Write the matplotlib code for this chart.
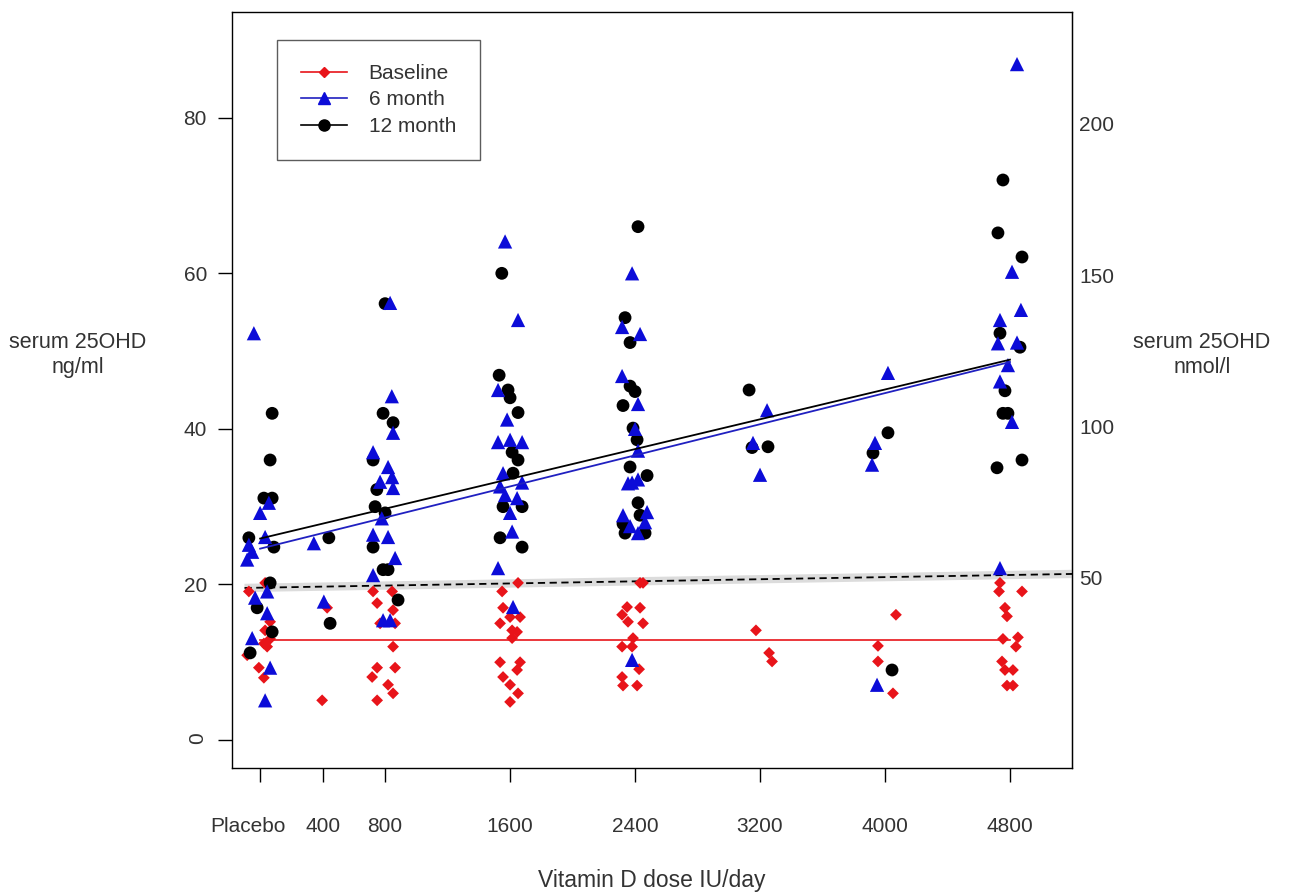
import matplotlib.pyplot as plt
from matplotlib.lines import Line2D
from matplotlib.transforms import blended_transform_factory
import numpy as np

plt.rcParams['font.family'] = ['Liberation Sans', 'DejaVu Sans']

dose_ticks = [0, 400, 800, 1600, 2400, 3200, 4000, 4800]
dose_labels = ['Placebo', '400', '800', '1600', '2400', '3200', '4000', '4800']

# baseline (jittered dose, ng/ml)
base_dose = [-72, 32, 64, 32, 24, 45, -8, 24, -83, 64,
             397, 429,
             723, 845, 749, 851, 768, 864, 851, 749, 864, 717, 819, 851, 749,
             1651, 1549, 1555, 1600, 1664, 1536, 1613, 1645, 1613, 1536, 1664, 1645, 1555, 1600, 1651, 1600,
             2432, 2451, 2349, 2432, 2317, 2355, 2451, 2387, 2317, 2381, 2426, 2317, 2323, 2413,
             3174, 3258, 3277,
             4070, 3955, 3955, 4051,
             4736, 4730, 4877, 4768, 4781, 4755, 4851, 4838, 4749, 4768, 4819, 4781, 4819]
base_val = [19.1, 20.2, 15.2, 14.1, 12.4, 12.0, 9.3, 8.0, 10.9, 13.0,
            5.1, 17.0,
            19.1, 19.1, 17.6, 16.7, 15.0, 15.0, 12.0, 9.3, 9.3, 8.1, 7.1, 6.0, 5.1,
            20.2, 19.1, 17.0, 15.8, 15.8, 15.0, 14.1, 13.9, 13.1, 10.0, 10.0, 9.0, 8.1, 7.1, 6.0, 4.9,
            20.2, 20.2, 17.1, 17.0, 16.1, 15.2, 15.0, 13.1, 12.0, 12.0, 9.1, 8.1, 7.0, 7.0,
            14.1, 11.2, 10.1,
            16.1, 12.1, 10.1, 6.0,
            20.2, 19.1, 19.1, 17.0, 15.9, 13.0, 13.2, 12.0, 10.1, 9.0, 9.0, 7.0, 7.0]

# 6 month
m6_dose = [-40, 0, 56, 32, -72, -51, -83, -32, 45, 45, -51, 64, 32,
           344, 408,
           832, 843, 851, 723, 819, 845, 851, 768, 779, 723, 819, 864, 723, 787, 832,
           1568, 1651, 1523, 1581, 1523, 1677, 1600, 1555, 1677, 1536, 1568, 1645, 1600, 1613, 1523, 1619,
           2381, 2317, 2432, 2317, 2419, 2400, 2419, 2381, 2323, 2477, 2368, 2419, 2419, 2355, 2464, 2381,
           3245, 3155, 3200,
           4019, 3936, 3917, 3949,
           4845, 4813, 4870, 4736, 4723, 4845, 4787, 4736, 4813, 4736]
m6_val = [52.3, 29.2, 30.5, 26.1, 25.1, 24.2, 23.2, 18.3, 19.1, 16.3, 13.1, 9.3, 5.1,
          25.3, 17.8,
          56.2, 44.2, 39.5, 37.0, 35.1, 33.8, 32.4, 33.2, 28.5, 26.4, 26.1, 23.4, 21.2, 15.4, 15.4,
          64.1, 54.0, 45.0, 41.2, 38.3, 38.3, 38.6, 34.3, 33.1, 32.6, 31.5, 31.1, 29.2, 26.8, 22.1, 17.1,
          60.0, 53.1, 52.2, 46.8, 43.2, 40.0, 37.2, 33.1, 28.9, 29.3, 27.5, 26.6, 33.5, 33.0, 28.0, 10.3,
          42.4, 38.2, 34.1,
          47.2, 38.2, 35.4, 7.1,
          86.9, 60.2, 55.3, 54.0, 51.0, 51.1, 48.2, 46.1, 40.9, 22.1]

# 12 month
m12_dose = [77, 64, 24, 77, -72, 88, 64, -19, 77, -64,
            440, 448,
            800, 787, 851, 723, 747, 736, 800, 723, 787, 819, 883,
            1547, 1530, 1587, 1600, 1651, 1613, 1651, 1619, 1555, 1677, 1536, 1677,
            2419, 2336, 2368, 2368, 2400, 2323, 2387, 2413, 2368, 2477, 2419, 2432, 2323, 2464, 2336,
            3130, 3149, 3251,
            4019, 3923, 4045,
            4755, 4723, 4877, 4736, 4768, 4787, 4755, 4877, 4717, 4864]
m12_val = [42.0, 36.0, 31.1, 31.1, 26.0, 24.8, 20.2, 17.0, 13.9, 11.2,
           26.0, 15.0,
           56.1, 42.0, 40.8, 36.0, 32.2, 30.0, 29.2, 24.8, 21.9, 21.9, 18.0,
           60.0, 46.9, 45.0, 44.0, 42.1, 37.0, 36.0, 34.3, 30.0, 30.0, 26.0, 24.8,
           66.0, 54.3, 51.1, 45.5, 44.8, 43.0, 40.1, 38.6, 35.1, 34.0, 30.5, 28.9, 27.8, 26.6, 26.6,
           45.0, 37.6, 37.7,
           39.5, 36.9, 9.0,
           72.0, 65.2, 62.1, 52.3, 44.9, 42.0, 42.0, 36.0, 35.0, 50.5]

# fitted lines, values
fit_dose = [0, 4800]
base_fit = [12.9, 12.9]
m6_fit = [24.6, 48.6]
m12_fit = [25.9, 48.9]
ref_dose = [-100, 5200]
ref_fit = [19.55, 21.35]

RED = '#e8141a'
BLUE = '#0c0cd8'

fig = plt.figure(figsize=(13.04, 8.96), dpi=100)
ax = fig.add_axes([232 / 1304, 1 - 768 / 896, 840 / 1304, 756 / 896])

ax.plot(ref_dose, ref_fit, color='#dcdcdc', lw=6, solid_capstyle='butt', zorder=1)
ax.plot(ref_dose, ref_fit, color='black', lw=1.3, ls=(0, (4, 2.5)), zorder=2)

ax.scatter(base_dose, base_val, marker='D', s=36, color=RED, edgecolors='none', zorder=3)
ax.scatter(m12_dose, m12_val, marker='o', s=85, color='black', edgecolors='none', zorder=4)
ax.scatter(m6_dose, m6_val, marker='^', s=105, color=BLUE, edgecolors='none', zorder=5)

ax.plot(fit_dose, base_fit, color=RED, lw=1.2, zorder=6)
ax.plot(fit_dose, m6_fit, color='#2020c0', lw=1.3, zorder=6)
ax.plot(fit_dose, m12_fit, color='black', lw=1.3, zorder=6)

ax.set_xlim(-180, 5197)
ax.set_ylim(-3.6, 93.6)

for s in ax.spines.values():
    s.set_linewidth(1.0)

ax.set_yticks([0, 20, 40, 60, 80])
ax.set_yticklabels(['0', '20', '40', '60', '80'], fontsize=15, color='#333333')
ax.get_yticklabels()[0].set_rotation(90)
ax.tick_params(axis='y', length=10, width=1, pad=8)

ax.set_xticks(dose_ticks)
ax.set_xticklabels([])
ax.tick_params(axis='x', length=10, width=1)
trans = blended_transform_factory(ax.transData, fig.transFigure)
label_shift = [-75, 0, 0, 0, 0, 0, 0, 0]
for d, lab, sh in zip(dose_ticks, dose_labels, label_shift):
    ax.text(d + sh, 1 - 826 / 896, lab, transform=trans, ha='center', va='center',
            fontsize=15, color='#333333')

# nmol/l axis as drawn in the original (roughly 2.5 x ng/ml)
sec = ax.secondary_yaxis('right', functions=(lambda v: v * 2.57 - 3.6, lambda v: (v + 3.6) / 2.57))
sec.set_yticks([50, 100, 150, 200])
sec.set_yticklabels(['50', '100', '150', '200'], fontsize=15, color='#333333')
sec.tick_params(length=0, pad=5)

fig.text(78 / 1304, 1 - 355 / 896, 'serum 25OHD\nng/ml', ha='center', va='center',
         fontsize=15.5, color='#333333', linespacing=1.3)
fig.text(1202 / 1304, 1 - 355 / 896, 'serum 25OHD\nnmol/l', ha='center', va='center',
         fontsize=15.5, color='#333333', linespacing=1.3)
fig.text(652 / 1304, 1 - 880 / 896, 'Vitamin D dose IU/day', ha='center', va='center',
         fontsize=16.5, color='#333333')

handles = [
    Line2D([], [], color=RED, marker='D', markersize=5, lw=1.2),
    Line2D([], [], color='#2020c0', marker='^', markersize=9, lw=1.2, markerfacecolor=BLUE,
           markeredgecolor=BLUE),
    Line2D([], [], color='black', marker='o', markersize=8, lw=1.2),
]
leg = ax.legend(handles, ['Baseline', '6 month', '12 month'], loc='upper left',
                bbox_to_anchor=(45 / 840, 1 - 28 / 756), borderaxespad=0, fontsize=15,
                frameon=True, fancybox=False, edgecolor='#333333', handlelength=2.2,
                labelspacing=0.36, borderpad=1.15, handletextpad=1.05)
leg.get_frame().set_linewidth(1.0)
for t in leg.get_texts():
    t.set_color('#333333')

fig.savefig('out.png', dpi=100)
